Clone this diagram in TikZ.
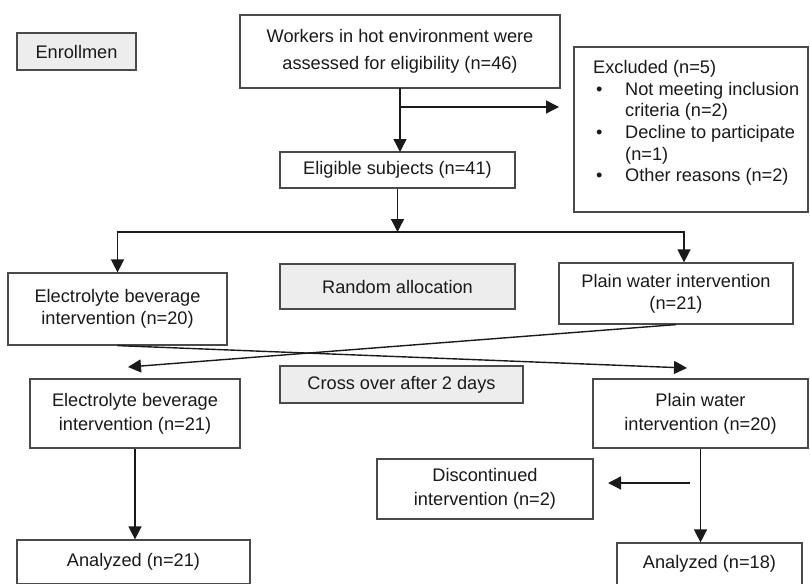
\documentclass[tikz,border=0pt]{standalone}
\usepackage{fontspec}
\setmainfont{Liberation Sans}
\usetikzlibrary{arrows.meta}
\definecolor{lc}{HTML}{1A1A1A}
\definecolor{bc}{HTML}{4A4A4A}
\definecolor{gf}{HTML}{EDEDED}
\tikzset{
  box/.style={draw=bc, line width=1.2pt, fill=white, inner sep=0pt, align=center,
    font=\fontsize{18.2}{22}\selectfont, text=lc},
  graybox/.style={box, fill=gf},
  arr/.style={draw=lc, line width=1.4pt, -{Triangle[width=13pt,length=13pt]}},
  ln/.style={draw=lc, line width=1.4pt, line cap=rect},
}
\begin{document}
\begin{tikzpicture}[x=1pt,y=-1pt]
\useasboundingbox (0,0) rectangle (810,583);
\clip (0,0) rectangle (810,583);
% boxes
\node[graybox, minimum width=119pt, minimum height=37pt] (enroll) at (76.5,51.5) {Enrollmen};
\node[box, minimum width=320pt, minimum height=73pt, font=\fontsize{18.2}{27}\selectfont] (workers) at (400,51.5)
  {Workers in hot environment were\\assessed for eligibility (n=46)};
\node[box, minimum width=234pt, minimum height=165pt] (excl) at (691,129.5) {};
\node[font=\fontsize{18.2}{21.7}\selectfont, text=lc, anchor=north west, align=left, inner sep=0pt] (excltext) at (593,60)
  {Excluded (n=5)\\
   \makebox[32pt][l]{\hspace{3pt}\textbullet}Not meeting inclusion\\
   \hspace*{32pt}criteria (n=2)\\
   \makebox[32pt][l]{\hspace{3pt}\textbullet}Decline to participate\\
   \hspace*{32pt}(n=1)\\
   \makebox[32pt][l]{\hspace{3pt}\textbullet}Other reasons (n=2)};
\node[box, minimum width=235pt, minimum height=36pt] (elig) at (397.5,170) {Eligible subjects (n=41)};
\node[box, minimum width=219pt, minimum height=72pt] (elec1) at (117.5,309)
  {Electrolyte beverage\\intervention (n=20)};
\node[graybox, minimum width=235pt, minimum height=45pt] (rand) at (397.5,286.5) {Random allocation};
\node[box, minimum width=234pt, minimum height=61pt] (plain1) at (676,293.5)
  {Plain water intervention\\(n=21)};
\node[graybox, minimum width=243pt, minimum height=37pt] (cross) at (401.5,384.5) {Cross over after 2 days};
\node[box, minimum width=210pt, minimum height=69pt, font=\fontsize{18.2}{24}\selectfont] (elec2) at (135,413.5)
  {Electrolyte beverage\\intervention (n=21)};
\node[box, minimum width=215pt, minimum height=69pt, font=\fontsize{18.2}{24}\selectfont] (plain2) at (700.5,413.5)
  {Plain water\\intervention (n=20)};
\node[box, minimum width=216pt, minimum height=60pt, font=\fontsize{18.2}{24}\selectfont] (disc) at (485,489)
  {Discontinued\\intervention (n=2)};
\node[box, minimum width=233pt, minimum height=44pt] (an1) at (133.5,562) {Analyzed (n=21)};
\node[box, minimum width=185pt, minimum height=42pt] (an2) at (709.5,564) {Analyzed (n=18)};
% connectors
\coordinate (wb) at (400,107);
\coordinate (wbend) at (559,107);
\draw[arr] (400,88) -- (400,152);
\draw[arr] (wb) -- (wbend);
\coordinate (split) at (397.5,232);
\draw[arr] (elig.south) -- (split);
\coordinate (lft) at (117.5,232);
\coordinate (rgt) at (684,232);
\draw[ln] (lft) -- (rgt);
\draw[arr] (lft) -- (elec1.north);
\draw[arr] (rgt) -- (rgt |- plain1.north);
\coordinate (c1end) at (687,368);
\coordinate (c2end) at (128,367);
\draw[arr] (elec1.south) -- (c1end);
\draw[arr] (plain1.south) -- (c2end);
\draw[arr] (elec2.south) -- (elec2.south |- an1.north);
\draw[arr] (plain2.south) -- (plain2.south |- an2.north);
\coordinate (dstart) at (690,483);
\coordinate (dend) at (608,483);
\draw[arr] (dstart) -- (dend);
\end{tikzpicture}
\end{document}
